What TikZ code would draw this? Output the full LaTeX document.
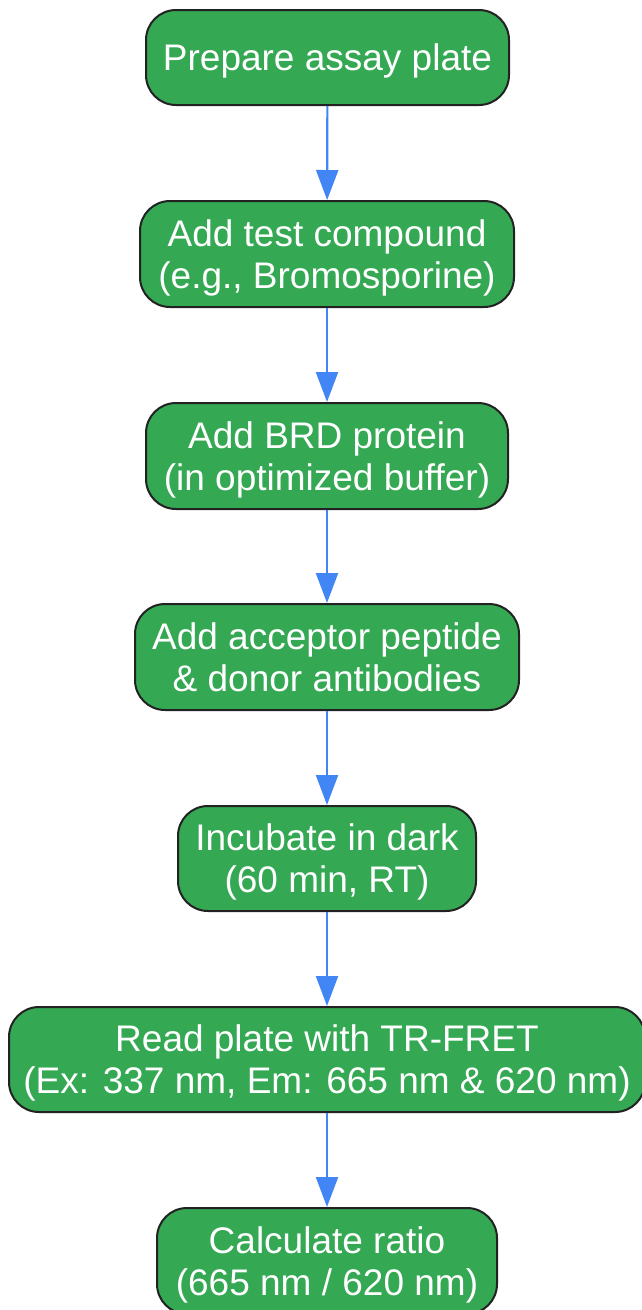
\documentclass[tikz,border=0pt]{standalone}
\usepackage{fontspec}
\setmainfont{Liberation Sans}
\usetikzlibrary{arrows.meta}
\definecolor{boxgreen}{HTML}{34A853}
\definecolor{boxedge}{HTML}{222222}
\definecolor{arrowblue}{HTML}{4285F4}
\begin{document}
\begin{tikzpicture}[x=1pt,y=-1pt,
  stepbox/.style={draw=boxedge, line width=2pt, fill=boxgreen, rounded corners=30pt,
    text=white, align=center, inner sep=0pt, text depth=-8pt,
    font=\fontsize{37}{42}\selectfont},
  flow/.style={draw=arrowblue, line width=2.2pt, -{Triangle[length=30pt,width=22pt]}}]
\useasboundingbox (0,0) rectangle (641,1310);
\node[stepbox, minimum width=363pt, minimum height=95pt] (n1) at (327.5,57.5) {Prepare assay plate};
\node[stepbox, minimum width=374pt, minimum height=106pt] (n2) at (327,254) {Add test compound\\(e.g., Bromosporine)};
\node[stepbox, minimum width=362pt, minimum height=106pt] (n3) at (327,456) {Add BRD protein\\(in optimized buffer)};
\node[stepbox, minimum width=384pt, minimum height=106pt] (n4) at (327,657) {Add acceptor peptide\\\& donor antibodies};
\node[stepbox, minimum width=298pt, minimum height=105pt] (n5) at (327,858.5) {Incubate in dark\\(60 min, RT)};
\node[stepbox, minimum width=636pt, minimum height=105pt] (n6) at (327,1059.5) {Read plate with TR-FRET\\(Ex: 337 nm, Em: 665 nm \& 620 nm)};
\node[stepbox, minimum width=340pt, minimum height=106pt] (n7) at (327,1261) {Calculate ratio\\(665 nm / 620 nm)};
\draw[flow] (n1) -- (n2);
\draw[flow] (n2) -- (n3);
\draw[flow] (n3) -- (n4);
\draw[flow] (n4) -- (n5);
\draw[flow] (n5) -- (n6);
\draw[flow] (n6) -- (n7);
\end{tikzpicture}
\end{document}
